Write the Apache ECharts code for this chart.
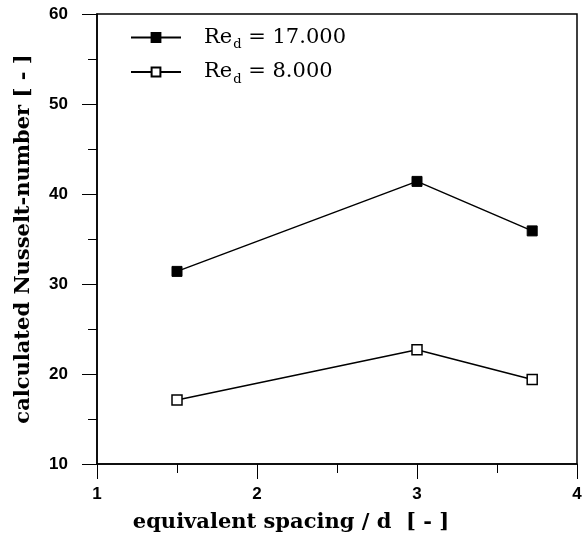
<!DOCTYPE html>
<html>
<head>
<meta charset="utf-8">
<script src="https://cdn.jsdelivr.net/npm/echarts@6/dist/echarts.min.js"></script>
<style>
  html, body { margin: 0; padding: 0; background: #fff; }
  #chart { width: 587px; height: 547px; }
</style>
</head>
<body>
<div id="chart"></div>
<script>
const spacing17k = [1.5, 3.0, 3.72];
const nusselt17k = [31.4, 41.4, 35.9];
const spacing8k = [1.5, 3.0, 3.72];
const nusselt8k = [17.1, 22.7, 19.4];
const seriesNames = ['Re17', 'Re8'];
const legendLabels = { Re17: '17.000', Re8: '8.000' };

const chart = echarts.init(document.getElementById('chart'));
const serif = '"DejaVu Serif", "Liberation Serif", serif';
const sans = '"Liberation Sans", Arial, sans-serif';

const axisCommon = {
  axisLine: { show: true, lineStyle: { color: '#000', width: 1.5 } },
  axisTick: { show: true, inside: false, length: 15, lineStyle: { color: '#000', width: 1 } },
  minorTick: { show: true, splitNumber: 2, length: 9, lineStyle: { color: '#000', width: 1 } },
  splitLine: { show: false },
  axisLabel: { color: '#000', fontFamily: sans, fontWeight: 'bold', fontSize: 17 },
  nameTextStyle: { color: '#000', fontFamily: serif, fontWeight: 'bold', fontSize: 21 }
};

const option = {
  animation: false,
  backgroundColor: '#fff',
  grid: { left: 97, right: 10, top: 14, bottom: 83, show: true, borderColor: '#000', borderWidth: 1.5 },
  legend: {
    orient: 'vertical',
    left: 125,
    top: 22,
    itemWidth: 50,
    itemHeight: 11,
    itemGap: 10,
    data: seriesNames,
    formatter: (name) => `{a|Re}{b|d}{a| = ${legendLabels[name]}}`,
    textStyle: {
      padding: [0, 0, 0, 18],
      rich: {
        a: { fontFamily: serif, fontSize: 21, color: '#000' },
        b: { fontFamily: serif, fontSize: 13, color: '#000', padding: [15, 0, 0, 1] }
      }
    }
  },
  xAxis: Object.assign({}, axisCommon, {
    type: 'value',
    min: 1,
    max: 4,
    interval: 1,
    name: 'equivalent spacing / d  [ - ]',
    nameLocation: 'middle',
    nameGap: 48,
    nameTextStyle: Object.assign({}, axisCommon.nameTextStyle, { padding: [0, 92, 0, 0] }),
    axisLabel: Object.assign({}, axisCommon.axisLabel, { margin: 22 })
  }),
  yAxis: Object.assign({}, axisCommon, {
    type: 'value',
    min: 10,
    max: 60,
    interval: 10,
    name: 'calculated Nusselt-number [ - ]',
    nameLocation: 'middle',
    nameRotate: 90,
    nameGap: 63,
    axisLabel: Object.assign({}, axisCommon.axisLabel, { margin: 29 })
  }),
  series: [
    {
      name: 'Re17',
      type: 'line',
      data: spacing17k.map((x, i) => [x, nusselt17k[i]]),
      symbol: 'rect',
      symbolSize: 10,
      lineStyle: { color: '#000', width: 1.5 },
      itemStyle: { color: '#000', borderColor: '#000', borderWidth: 1 }
    },
    {
      name: 'Re8',
      type: 'line',
      data: spacing8k.map((x, i) => [x, nusselt8k[i]]),
      symbol: 'rect',
      symbolSize: 10,
      lineStyle: { color: '#000', width: 1.5 },
      itemStyle: { color: '#fff', borderColor: '#000', borderWidth: 1.5 }
    }
  ]
};

chart.setOption(option);
</script>
</body>
</html>
